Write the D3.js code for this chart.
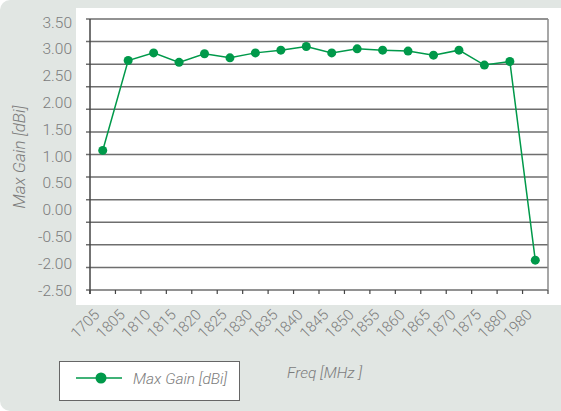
<!DOCTYPE html>
<html>
<head>
<meta charset="utf-8">
<script src="https://cdn.jsdelivr.net/npm/d3@7"></script>
<style>
  body { margin: 0; background: #fff; }
  svg text { font-family: Roboto, "Liberation Sans", sans-serif; fill: #7c7c7c; }
</style>
</head>
<body>
<script>
var width = 561, height = 411;

// data
var freqLabels = ["1705","1805","1810","1815","1820","1825","1830","1835","1840",
                  "1845","1850","1855","1860","1865","1870","1875","1880","1980"];
var gainValues = [0.59, 2.58, 2.75, 2.54, 2.73, 2.64, 2.75, 2.81, 2.89,
                  2.75, 2.84, 2.81, 2.79, 2.70, 2.81, 2.48, 2.56, -1.84];
var yTickLabels = ["3.50","3.00","2.50","2.00","1.50","1.00","0.50","0.00","-0.50","-2.00","-2.50"];
var gridValues = d3.range(-2.5, 3.51, 0.5);

var margin = {left: 90, right: 13, top: 19, bottom: 121};

var svg = d3.select("body").append("svg")
    .attr("width", width)
    .attr("height", height);

// backgrounds
svg.append("rect")
   .attr("x", 0).attr("y", 0)
   .attr("width", width + 12).attr("height", height)
   .attr("rx", 10)
   .style("fill", "#e1e6e3");

svg.append("rect")
   .attr("x", 76).attr("y", 8)
   .attr("width", width - 76).attr("height", 297)
   .style("fill", "#fff");

var x = d3.scaleBand()
    .domain(freqLabels)
    .range([margin.left, width - margin.right]);

var y = d3.scaleLinear()
    .domain([-2.5, 3.5])
    .range([height - margin.bottom, margin.top]);

var yLab = d3.scalePoint()
    .domain(yTickLabels)
    .range([22, 290]);

// gridlines
svg.selectAll(".grid")
   .data(gridValues)
   .enter()
   .append("line")
   .attr("class", "grid")
   .attr("x1", margin.left - 4)
   .attr("x2", width - margin.right)
   .attr("y1", function(d){ return y(d); })
   .attr("y2", function(d){ return y(d); })
   .style("stroke", "#6e6e6e")
   .style("stroke-width", 1.5);

// right border
svg.append("line")
   .attr("x1", width - margin.right).attr("x2", width - margin.right)
   .attr("y1", y(3.5)).attr("y2", y(-2.5))
   .style("stroke", "#8a8a8a")
   .style("stroke-width", 1.5);

// left axis line
svg.append("line")
   .attr("x1", margin.left).attr("x2", margin.left)
   .attr("y1", y(3.5)).attr("y2", y(-2.5) + 4)
   .style("stroke", "#444")
   .style("stroke-width", 1.5);

// bottom ticks
var tickPos = freqLabels.map(function(d){ return x(d); }).concat([width - margin.right]);
svg.selectAll(".xtick")
   .data(tickPos)
   .enter()
   .append("line")
   .attr("x1", function(d){ return d; })
   .attr("x2", function(d){ return d; })
   .attr("y1", y(-2.5))
   .attr("y2", y(-2.5) + 4)
   .style("stroke", "#444")
   .style("stroke-width", 1.2);

// y tick labels
svg.selectAll(".ylab")
   .data(yTickLabels)
   .enter()
   .append("text")
   .attr("x", 72)
   .attr("y", function(d){ return yLab(d); })
   .attr("dy", "0.36em")
   .attr("text-anchor", "end")
   .style("font-size", "15.5px")
   .style("font-weight", 300)
   .text(function(d){ return d; });

// x tick labels
svg.selectAll(".xlab")
   .data(freqLabels)
   .enter()
   .append("text")
   .attr("transform", function(d){
       return "translate(" + (x(d) + x.bandwidth()/2 - 6) + ",312) rotate(-45)";
   })
   .attr("text-anchor", "end")
   .attr("dy", "0.35em")
   .style("font-size", "15px")
   .style("font-weight", 300)
   .text(function(d){ return d; });

// y title
svg.append("text")
   .attr("transform", "translate(25,157) rotate(-90)")
   .attr("text-anchor", "middle")
   .style("font-size", "17px")
   .style("font-style", "italic")
   .style("font-weight", 300)
   .text("Max Gain [dBi]");

// line + points
var green = "#00994a";
var line = d3.line()
    .x(function(d, i){ return x(freqLabels[i]) + x.bandwidth()/2; })
    .y(function(d){ return y(d); });

svg.append("path")
   .datum(gainValues)
   .attr("d", line)
   .style("fill", "none")
   .style("stroke", green)
   .style("stroke-width", 1.5);

svg.selectAll(".dot")
   .data(gainValues)
   .enter()
   .append("circle")
   .attr("cx", function(d, i){ return x(freqLabels[i]) + x.bandwidth()/2; })
   .attr("cy", function(d){ return y(d); })
   .attr("r", 4.5)
   .style("fill", green);

// legend
svg.append("rect")
   .attr("x", 59.5).attr("y", 361.5)
   .attr("width", 180).attr("height", 39)
   .style("fill", "#fff")
   .style("stroke", "#666")
   .style("stroke-width", 1);

svg.append("line")
   .attr("x1", 76).attr("x2", 122)
   .attr("y1", 378).attr("y2", 378)
   .style("stroke", green)
   .style("stroke-width", 1.5);

svg.append("circle")
   .attr("cx", 101).attr("cy", 378).attr("r", 5.5)
   .style("fill", green);

svg.append("text")
   .attr("x", 133).attr("y", 384)
   .style("font-size", "15.5px")
   .style("font-style", "italic")
   .style("font-weight", 300)
   .text("Max Gain [dBi]");

svg.append("text")
   .attr("x", 287).attr("y", 378)
   .style("font-size", "15.5px")
   .style("font-style", "italic")
   .style("font-weight", 300)
   .text("Freq [MHz ]");
</script>
</body>
</html>
